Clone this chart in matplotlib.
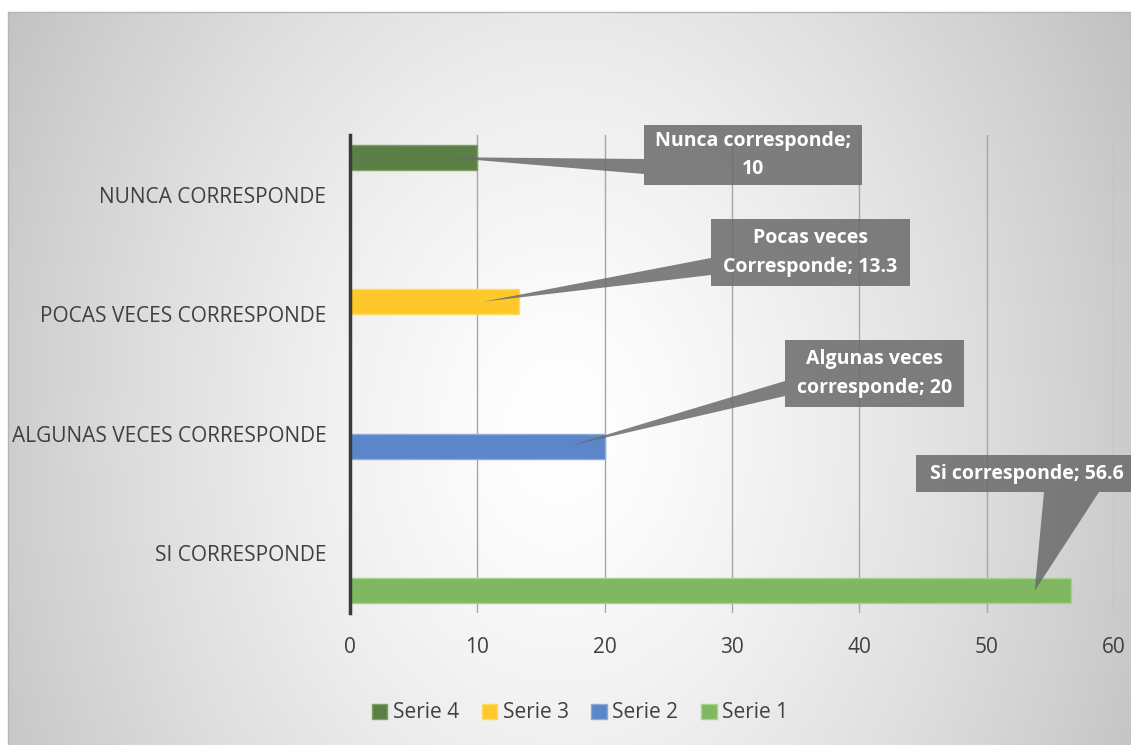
import numpy as np
import matplotlib.pyplot as plt
from matplotlib.patches import Rectangle, Polygon, Patch

plt.rcParams['font.family'] = ['Open Sans', 'DejaVu Sans']

categorias = ['SI CORRESPONDE', 'ALGUNAS VECES CORRESPONDE',
              'POCAS VECES CORRESPONDE', 'NUNCA CORRESPONDE']
series = ['Serie 1', 'Serie 2', 'Serie 3', 'Serie 4']
serie1 = [56.6, 0, 0, 0]
serie2 = [0, 20, 0, 0]
serie3 = [0, 0, 13.3, 0]
serie4 = [0, 0, 0, 10]
valores = [serie1, serie2, serie3, serie4]
etiquetas = ['Si corresponde; 56.6', 'Algunas veces\ncorresponde; 20',
             'Pocas veces\nCorresponde; 13.3', 'Nunca corresponde;\n10']

colores = ['#80b862', '#5b86c9', '#ffc82a', '#5b7f45']
bordes = ['#a9d18e', '#8eaadb', '#ffd966', '#7f9f66']

W, H = 1131, 745
fig = plt.figure(figsize=(W / 100, H / 100), dpi=100)

# fondo con degradado radial
bg = fig.add_axes([0, 0, 1, 1], zorder=0)
bg.axis('off')
xx, yy = np.meshgrid(np.arange(8, W), np.arange(12, H))
r = np.sqrt(((xx - 560) / 680.0) ** 2 + ((yy - 430) / 900.0) ** 2)
v = 255 - 66 * np.clip(r, 0, 1) ** 1.4
img = np.dstack([v, v, v]) / 255.0
bg.imshow(img, extent=(8, W, H, 12), aspect='auto', interpolation='bilinear')
bg.add_patch(Rectangle((8, 12), W, H, fill=False, ec='#b5b5b5', lw=1))
bg.set_xlim(0, W)
bg.set_ylim(H, 0)

# grafico principal
ax = fig.add_axes([350 / W, 1 - 613 / H, 764 / W, 478 / H], zorder=1)
ax.patch.set_alpha(0)
pos = np.arange(len(categorias))
h = 0.21
for k, vals in enumerate(valores):
    ax.barh(pos + (k - 1.5) * h, vals, height=h, color=colores[k],
            edgecolor=bordes[k], lw=1, zorder=2)

ax.set_xlim(0, 60)
ax.set_ylim(-0.5, 3.5)
ax.set_xticks(range(0, 61, 10))
ax.set_yticks(pos)
ax.set_yticklabels(categorias)
ax.grid(axis='x', color='#a6a6a6', lw=1)
ax.set_axisbelow(True)
for s in ['top', 'right', 'bottom']:
    ax.spines[s].set_visible(False)
ax.spines['left'].set_color('#3a3a3a')
ax.spines['left'].set_linewidth(2.5)
ax.spines['left'].set_zorder(3)
ax.tick_params(axis='y', length=0, pad=17, labelsize=15, labelcolor='#404040')
ax.tick_params(axis='x', length=0, pad=17, labelsize=15, labelcolor='#404040')

# etiquetas tipo globo
ov = fig.add_axes([0, 0, 1, 1], zorder=3)
ov.set_xlim(0, W)
ov.set_ylim(H, 0)
ov.axis('off')
ov.patch.set_alpha(0)

cajas = [(916, 455, 222, 37), (785, 340, 179, 67), (711, 219, 199, 67), (644, 125, 218, 60)]
bases = [(1044, 1099), (381, 396), (258, 275), (159, 174)]
frac_punta = [0.95, 0.856, 0.786, 0.72]

for k in range(4):
    x0, y0, bw, bh = cajas[k]
    x1, y1 = x0 + bw, y0 + bh
    val = valores[k][k]
    dx, dy = ax.transData.transform((val * frac_punta[k], pos[k] + (k - 1.5) * h))
    tip = (dx, H - dy)
    b1, b2 = bases[k]
    if k == 0:
        pts = [(x0, y0), (x1, y0), (x1, y1), (b2, y1), tip, (b1, y1), (x0, y1)]
    else:
        pts = [(x0, y0), (x1, y0), (x1, y1), (x0, y1), (x0, b2), tip, (x0, b1)]
    ov.add_patch(Polygon(pts, closed=True, fc='#6a6a6a', ec='none', alpha=0.85))
    ov.text(x0 + bw / 2, y0 + bh / 2, etiquetas[k], color='white', fontsize=14,
            fontweight='bold', ha='center', va='center', linespacing=1.55)

handles = [Patch(fc=colores[k], ec=bordes[k]) for k in [3, 2, 1, 0]]
fig.legend(handles, [series[k] for k in [3, 2, 1, 0]], loc='center',
           bbox_to_anchor=(580 / W, 1 - 713 / H), ncol=4, frameon=False,
           fontsize=15, labelcolor='#404040', handlelength=0.75, handleheight=0.75,
           handletextpad=0.25, columnspacing=1.1)

fig.savefig('out.png', dpi=100)
